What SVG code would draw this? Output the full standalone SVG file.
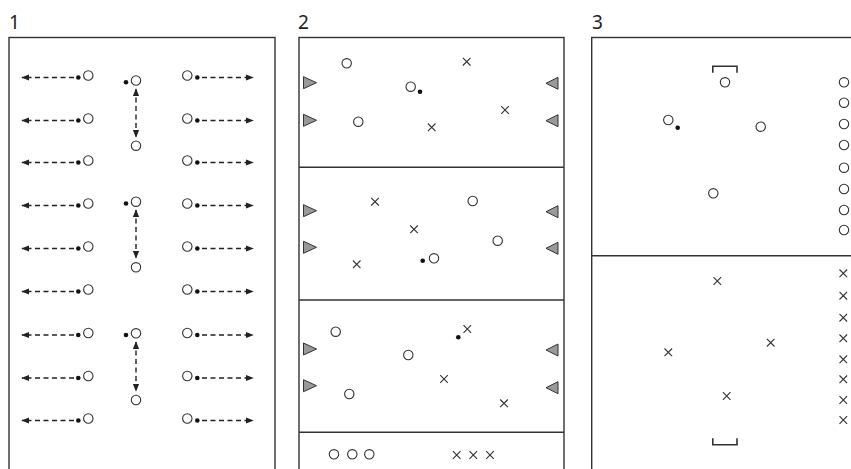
<svg xmlns="http://www.w3.org/2000/svg" width="851" height="469" viewBox="0 0 851 469">
<style>
.frame{fill:none;stroke:#333;stroke-width:1.4}
.div{stroke:#333;stroke-width:1.4}
.pl{fill:#fff;stroke:#333;stroke-width:1.1}
.dot{fill:#111}
.x{stroke:#333;stroke-width:1.1;fill:none}
.tri{fill:#999;stroke:#333;stroke-width:1}
.arr{stroke:#222;stroke-width:1.4;stroke-dasharray:5 3.5;fill:none}
.goal{fill:none;stroke:#333;stroke-width:1.6}
.lbl{font-family:"Noto Sans","Open Sans",sans-serif;font-size:19px;fill:#222}
</style>
<defs>
<marker id="ah" viewBox="0 0 10 10" refX="9" refY="5" markerWidth="8" markerHeight="8" markerUnits="userSpaceOnUse" orient="auto-start-reverse"><path d="M0,1 L10,5 L0,9 Z" fill="#222"/></marker>
<circle id="o" r="4.7" class="pl"/>
<circle id="d" r="2.3" class="dot"/>
<path id="x" d="M-3.8,-3.8 L3.8,3.8 M-3.8,3.8 L3.8,-3.8" class="x"/>
<polygon id="tr" points="-6.5,-6 6.5,0 -6.5,6" class="tri"/>
<polygon id="tl" points="6,-6 -6,0 6,6" class="tri"/>
</defs>
<rect width="851" height="469" fill="#fff"/>
<text class="lbl" x="9" y="29">1</text>
<text class="lbl" x="298" y="29">2</text>
<text class="lbl" x="592" y="29">3</text>
<g id="panel1">
<rect class="frame" x="9" y="37.5" width="266" height="445"/>
<g id="p1-left">
<g><line class="arr" x1="74" y1="77.5" x2="22" y2="77.5" marker-end="url(#ah)"/><use href="#d" x="78.3" y="77.5"/><use href="#o" x="88.3" y="75.5"/></g>
<g><line class="arr" x1="74" y1="120.5" x2="22" y2="120.5" marker-end="url(#ah)"/><use href="#d" x="78.3" y="120.5"/><use href="#o" x="88.3" y="118.5"/></g>
<g><line class="arr" x1="74" y1="162.5" x2="22" y2="162.5" marker-end="url(#ah)"/><use href="#d" x="78.3" y="162.5"/><use href="#o" x="88.3" y="160.5"/></g>
<g><line class="arr" x1="74" y1="205.5" x2="22" y2="205.5" marker-end="url(#ah)"/><use href="#d" x="78.3" y="205.5"/><use href="#o" x="88.3" y="203.5"/></g>
<g><line class="arr" x1="74" y1="248.5" x2="22" y2="248.5" marker-end="url(#ah)"/><use href="#d" x="78.3" y="248.5"/><use href="#o" x="88.3" y="246.5"/></g>
<g><line class="arr" x1="74" y1="291.5" x2="22" y2="291.5" marker-end="url(#ah)"/><use href="#d" x="78.3" y="291.5"/><use href="#o" x="88.3" y="289.5"/></g>
<g><line class="arr" x1="74" y1="335" x2="22" y2="335" marker-end="url(#ah)"/><use href="#d" x="78.3" y="335"/><use href="#o" x="88.3" y="333"/></g>
<g><line class="arr" x1="74" y1="378" x2="22" y2="378" marker-end="url(#ah)"/><use href="#d" x="78.3" y="378"/><use href="#o" x="88.3" y="376"/></g>
<g><line class="arr" x1="74" y1="420.5" x2="22" y2="420.5" marker-end="url(#ah)"/><use href="#d" x="78.3" y="420.5"/><use href="#o" x="88.3" y="418.5"/></g>
</g>
<g id="p1-center">
<g><use href="#d" x="126" y="82.3"/><use href="#o" x="136" y="80.5"/><line class="arr" x1="136" y1="89" x2="136" y2="137" marker-start="url(#ah)" marker-end="url(#ah)"/><use href="#o" x="136" y="145.7"/></g>
<g><use href="#d" x="126" y="203.5"/><use href="#o" x="136" y="201.7"/><line class="arr" x1="136" y1="210" x2="136" y2="258" marker-start="url(#ah)" marker-end="url(#ah)"/><use href="#o" x="136" y="267.3"/></g>
<g><use href="#d" x="126" y="335"/><use href="#o" x="136" y="333.3"/><line class="arr" x1="136" y1="342" x2="136" y2="391" marker-start="url(#ah)" marker-end="url(#ah)"/><use href="#o" x="136" y="400"/></g>
</g>
<g id="p1-right">
<g><use href="#o" x="187.3" y="75.5"/><use href="#d" x="197.3" y="77.5"/><line class="arr" x1="202" y1="77.5" x2="253" y2="77.5" marker-end="url(#ah)"/></g>
<g><use href="#o" x="187.3" y="118.5"/><use href="#d" x="197.3" y="120.5"/><line class="arr" x1="202" y1="120.5" x2="253" y2="120.5" marker-end="url(#ah)"/></g>
<g><use href="#o" x="187.3" y="160.5"/><use href="#d" x="197.3" y="162.5"/><line class="arr" x1="202" y1="162.5" x2="253" y2="162.5" marker-end="url(#ah)"/></g>
<g><use href="#o" x="187.3" y="203.5"/><use href="#d" x="197.3" y="205.5"/><line class="arr" x1="202" y1="205.5" x2="253" y2="205.5" marker-end="url(#ah)"/></g>
<g><use href="#o" x="187.3" y="246.5"/><use href="#d" x="197.3" y="248.5"/><line class="arr" x1="202" y1="248.5" x2="253" y2="248.5" marker-end="url(#ah)"/></g>
<g><use href="#o" x="187.3" y="289.5"/><use href="#d" x="197.3" y="291.5"/><line class="arr" x1="202" y1="291.5" x2="253" y2="291.5" marker-end="url(#ah)"/></g>
<g><use href="#o" x="187.3" y="333"/><use href="#d" x="197.3" y="335"/><line class="arr" x1="202" y1="335" x2="253" y2="335" marker-end="url(#ah)"/></g>
<g><use href="#o" x="187.3" y="376"/><use href="#d" x="197.3" y="378"/><line class="arr" x1="202" y1="378" x2="253" y2="378" marker-end="url(#ah)"/></g>
<g><use href="#o" x="187.3" y="418.5"/><use href="#d" x="197.3" y="420.5"/><line class="arr" x1="202" y1="420.5" x2="253" y2="420.5" marker-end="url(#ah)"/></g>
</g>
</g>
<g id="panel2">
<rect class="frame" x="299" y="37.5" width="265" height="445"/>
<line class="div" x1="299" y1="167.3" x2="564" y2="167.3"/>
<line class="div" x1="299" y1="300" x2="564" y2="300"/>
<line class="div" x1="299" y1="432.3" x2="564" y2="432.3"/>
<g id="p2-s1">
<use href="#tr" x="310" y="82.7"/><use href="#tr" x="310" y="120.3"/>
<use href="#tl" x="552" y="83.3"/><use href="#tl" x="552" y="120.7"/>
<use href="#o" x="346.7" y="63.3"/><use href="#x" x="466.7" y="61.7"/>
<use href="#o" x="410.7" y="86.7"/><use href="#d" x="420" y="91.7"/>
<use href="#x" x="505" y="110"/><use href="#o" x="358.3" y="121.7"/><use href="#x" x="431.7" y="127.3"/>
</g>
<g id="p2-s2">
<use href="#tr" x="310" y="210.7"/><use href="#tr" x="310" y="247.3"/>
<use href="#tl" x="552" y="211.7"/><use href="#tl" x="552" y="248.3"/>
<use href="#x" x="375" y="201.7"/><use href="#o" x="472.7" y="201"/>
<use href="#x" x="414" y="229.3"/><use href="#o" x="497.7" y="240.7"/>
<use href="#x" x="356.7" y="264.3"/><use href="#d" x="422.7" y="260.7"/><use href="#o" x="434" y="258.3"/>
</g>
<g id="p2-s3">
<use href="#tr" x="310" y="349"/><use href="#tr" x="310" y="385.7"/>
<use href="#tl" x="552" y="350"/><use href="#tl" x="552" y="387.7"/>
<use href="#o" x="335.7" y="331.7"/><use href="#x" x="467.3" y="329"/><use href="#d" x="458.3" y="337.3"/>
<use href="#o" x="408.3" y="355"/><use href="#x" x="444" y="379"/>
<use href="#o" x="349.3" y="394"/><use href="#x" x="504" y="403.3"/>
</g>
<g id="p2-s4">
<use href="#o" x="334" y="454.3"/><use href="#o" x="352.3" y="454.3"/><use href="#o" x="369.3" y="454.3"/>
<use href="#x" x="456.7" y="455"/><use href="#x" x="473.3" y="455"/><use href="#x" x="490" y="455"/>
</g>
</g>
<g id="panel3">
<rect class="frame" x="591.7" y="37.5" width="300" height="445"/>
<line class="div" x1="591.7" y1="255.7" x2="860" y2="255.7"/>
<g id="p3-top">
<path class="goal" d="M712.8,72.7 V66.2 H737 V72.7"/>
<use href="#o" x="725" y="82.3"/>
<use href="#o" x="668.3" y="120"/><use href="#d" x="677.7" y="127.7"/>
<use href="#o" x="760.7" y="126.7"/>
<use href="#o" x="713.3" y="193.3"/>
<use href="#o" x="844" y="82.3"/><use href="#o" x="844" y="102.7"/><use href="#o" x="844" y="124"/><use href="#o" x="844" y="145"/>
<use href="#o" x="844" y="167.7"/><use href="#o" x="844" y="189"/><use href="#o" x="844" y="210"/><use href="#o" x="844" y="230"/>
</g>
<g id="p3-bottom">
<use href="#x" x="717.3" y="281"/><use href="#x" x="770.7" y="342.7"/>
<use href="#x" x="668.3" y="352.3"/><use href="#x" x="726.7" y="396"/>
<path class="goal" d="M712.8,438.3 V444.8 H737 V438.3"/>
<use href="#x" x="843.3" y="273.3"/><use href="#x" x="843.3" y="295.7"/><use href="#x" x="843.3" y="317.7"/><use href="#x" x="843.3" y="338.3"/>
<use href="#x" x="843.3" y="359.3"/><use href="#x" x="843.3" y="379.3"/><use href="#x" x="843.3" y="400"/><use href="#x" x="843.3" y="420"/>
</g>
</g>
</svg>
